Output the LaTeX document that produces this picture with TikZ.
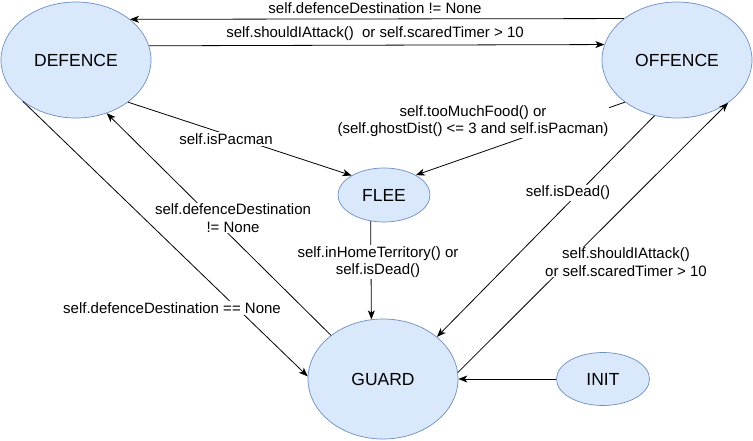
\documentclass[tikz,border=0pt]{standalone}
\usepackage{fontspec}
\setmainfont{Liberation Sans}
\usetikzlibrary{arrows.meta,shapes.geometric}
\definecolor{statefill}{HTML}{DAE8FC}
\definecolor{stateborder}{HTML}{6C8EBF}
\begin{document}
\begin{tikzpicture}[x=1pt,y=-1pt,
  state/.style={ellipse,draw=stateborder,fill=statefill,line width=0.7pt,inner sep=0pt,font=\fontsize{17.5}{20}\selectfont},
  edge/.style={draw=black,line width=0.8pt,-{Stealth[length=9pt,width=7pt,inset=2.5pt]}},
  lbl/.style={fill=white,inner sep=1pt,align=center,font=\fontsize{15}{17.3}\selectfont}]
\useasboundingbox (0,0) rectangle (753,441);

\node[state,minimum width=150pt,minimum height=116pt] (DEF) at (76,60) {DEFENCE};
\node[state,minimum width=150pt,minimum height=116pt] (OFF) at (677,60) {OFFENCE};
\node[state,minimum width=92pt,minimum height=54pt] (FLEE) at (384,195) {FLEE};
\node[state,minimum width=150pt,minimum height=120pt] (GUARD) at (383,379) {GUARD};
\node[state,minimum width=93pt,minimum height=53pt] (INIT) at (603,379) {INIT};

% edges
\draw[edge] (OFF.142.3) -- (DEF.37.7);
\draw[edge] (DEF.11.7) -- (OFF.168.3);
\draw[edge] (DEF.-39.6) -- (FLEE.149.5);
\draw[edge] (OFF.219) -- (FLEE.32.9);
\draw[edge] (OFF.248.4) -- (GUARD.38.5);
\draw[edge] (GUARD.5.3) -- (OFF.-40.3);
\draw[edge] (FLEE.243.3) -- (GUARD.101.5);
\draw[edge] (GUARD.140.9) -- (DEF.-60.5);
\draw[edge] (INIT) -- (GUARD);

% labels
\node[lbl] (l1) at (375,8) {self.defenceDestination != None};
\node[lbl] (l2) at (375,34) {self.shouldIAttack()\ \ or self.scaredTimer > 10};
\node[lbl] (l3) at (226,139) {self.isPacman};
\node[lbl] (l4) at (473,121) {self.tooMuchFood() or\\(self.ghostDist() <= 3 and self.isPacman)};
\node[lbl] (l5) at (568,193) {self.isDead()};
\node[lbl] (l6) at (626,262) {self.shouldIAttack()\\or self.scaredTimer > 10};
\node[lbl] (l7) at (378,262) {self.inHomeTerritory() or\\self.isDead()};
\node[lbl] (l9) at (233,218) {self.defenceDestination\\!= None};

% long edge drawn after l9 so it stays unbroken there
\draw[edge] (DEF.218.5) -- (GUARD.178.5);
\node[lbl] (l8) at (172,308) {self.defenceDestination == None};
\end{tikzpicture}
\end{document}
